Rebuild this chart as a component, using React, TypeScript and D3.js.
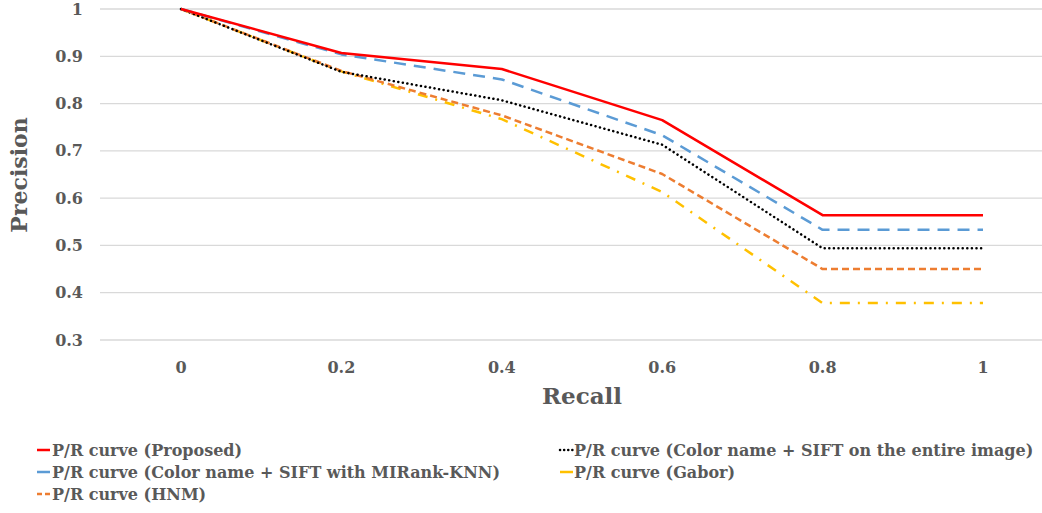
import React from "react";
import * as d3 from "d3";

const recall = ["0", "0.2", "0.4", "0.6", "0.8", "1"];
const yTicks = [0.3, 0.4, 0.5, 0.6, 0.7, 0.8, 0.9, 1];
const yTickLabels = ["0.3", "0.4", "0.5", "0.6", "0.7", "0.8", "0.9", "1"];

const proposed = [1, 0.907, 0.873, 0.765, 0.564, 0.564];
const colorSiftMIRank = [1, 0.904, 0.851, 0.733, 0.533, 0.533];
const colorSiftEntire = [1, 0.867, 0.807, 0.713, 0.494, 0.494];
const hnm = [1, 0.869, 0.775, 0.651, 0.45, 0.45];
const gabor = [1, 0.868, 0.767, 0.613, 0.378, 0.378];

const seriesNames = [
  "P/R curve (Proposed)",
  "P/R curve (Color name + SIFT on the entire image)",
  "P/R curve (Color name + SIFT with MIRank-KNN)",
  "P/R curve (Gabor)",
  "P/R curve (HNM)",
];

const FONT = "'DejaVu Serif', serif";
const GRAY = "#595959";

type S = { name: string; values: number[]; color: string; dash: string; cap: string; width: number };

const series: S[] = [
  { name: seriesNames[0], values: proposed, color: "#ff0000", dash: "none", cap: "butt", width: 2.5 },
  { name: seriesNames[2], values: colorSiftMIRank, color: "#5b9bd5", dash: "12,8", cap: "butt", width: 2.5 },
  { name: seriesNames[1], values: colorSiftEntire, color: "#000000", dash: "0.1,4.5", cap: "round", width: 2.5 },
  { name: seriesNames[4], values: hnm, color: "#ed7d31", dash: "7,4", cap: "butt", width: 2.5 },
  { name: seriesNames[3], values: gabor, color: "#ffc000", dash: "10,8,2,8", cap: "butt", width: 2.5 },
];

export default function App() {
  const x = d3.scalePoint<string>().domain(recall).range([181, 983]);
  const y = d3.scaleLinear().domain([0.3, 1]).range([340, 9]);
  const line = d3
    .line<number>()
    .x((_, i) => x(recall[i]) as number)
    .y((d) => y(d));

  const legend = [
    { s: series[0], lx: 37, ly: 450, tx: 52 },
    { s: series[1], lx: 37, ly: 472, tx: 52 },
    { s: series[3], lx: 37, ly: 494, tx: 52 },
    { s: series[2], lx: 560, ly: 450, tx: 574 },
    { s: series[4], lx: 560, ly: 472, tx: 574 },
  ];

  return (
    <svg
      width={1042}
      height={513}
      style={{ position: "fixed", left: 0, top: 0, background: "#fff" }}
    >
      <rect width={1042} height={513} fill="#fff" />
      {yTicks.map((t, i) => (
        <g key={i}>
          <line x1={100} x2={1042} y1={y(t)} y2={y(t)} stroke="#d9d9d9" strokeWidth={1.3} />
          <text
            x={83}
            y={y(t)}
            dy="0.35em"
            textAnchor="end"
            fontFamily={FONT}
            fontWeight="bold"
            fontSize={16}
            fill={GRAY}
          >
            {yTickLabels[i]}
          </text>
        </g>
      ))}
      {recall.map((r) => (
        <text
          key={r}
          x={x(r)}
          y={367}
          dy="0.35em"
          textAnchor="middle"
          fontFamily={FONT}
          fontWeight="bold"
          fontSize={16}
          fill={GRAY}
        >
          {r}
        </text>
      ))}
      <text
        transform="translate(19,175) rotate(-90)"
        textAnchor="middle"
        dy="0.35em"
        fontFamily={FONT}
        fontWeight="bold"
        fontSize={22}
        fill={GRAY}
      >
        Precision
      </text>
      <text
        x={582}
        y={396}
        dy="0.35em"
        textAnchor="middle"
        fontFamily={FONT}
        fontWeight="bold"
        fontSize={23}
        fill={GRAY}
      >
        Recall
      </text>
      {[...series].reverse().map((s) => (
        <path
          key={s.name}
          d={line(s.values) || ""}
          fill="none"
          stroke={s.color}
          strokeWidth={s.width}
          strokeDasharray={s.dash}
          strokeLinecap={s.cap as any}
          strokeLinejoin="round"
        />
      ))}
      {legend.map((l, i) => (
        <g key={i}>
          <line
            x1={l.lx}
            x2={l.lx + 13}
            y1={l.ly}
            y2={l.ly}
            stroke={l.s.color}
            strokeWidth={2.5}
            strokeDasharray={l.s.dash === "none" ? "none" : l.s.cap === "round" ? "0.1,4" : l.s.dash === "7,4" ? "5,3" : "none"}
            strokeLinecap={l.s.cap as any}
          />
          <text
            x={l.tx}
            y={l.ly}
            dy="0.35em"
            fontFamily={FONT}
            fontWeight="bold"
            fontSize={16}
            fill={GRAY}
          >
            {l.s.name}
          </text>
        </g>
      ))}
    </svg>
  );
}
